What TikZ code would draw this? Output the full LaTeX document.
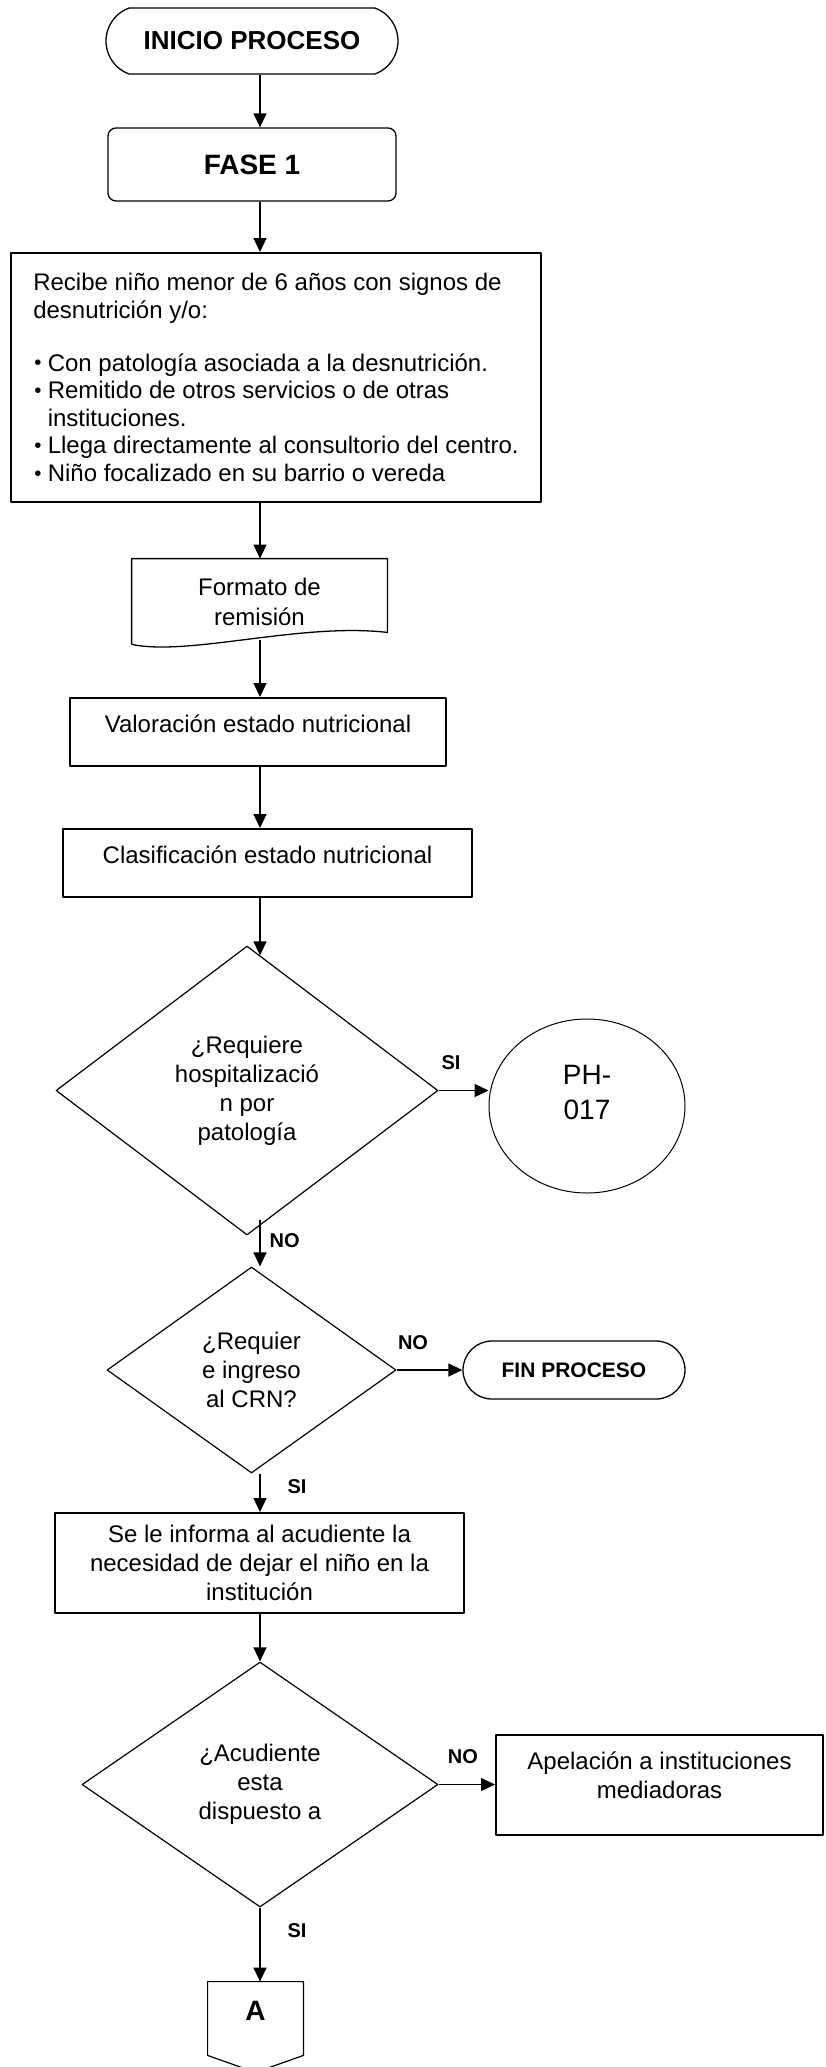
\documentclass[tikz,border=0pt]{standalone}
\usepackage{fontspec}
\setmainfont{Liberation Sans}
\usetikzlibrary{shapes.geometric,shapes.misc,arrows.meta,positioning}

\newcommand{\vineta}{\makebox[7.25pt][l]{\hspace{0.5pt}\raisebox{0.6pt}{\scalebox{0.85}{\textbullet}}}}

\begin{document}
\begin{tikzpicture}[
    x=0.5pt, y=-0.5pt,
    line join=round,
    flecha/.style={draw=black, line width=0.65pt, -{Triangle[length=7pt,width=6.5pt]}},
    terminal/.style={rounded rectangle, draw=black, line width=0.65pt, inner sep=0pt, font=\bfseries\fontsize{13}{15}\selectfont},
    fase/.style={rectangle, rounded corners=4pt, draw=black, line width=0.65pt, inner sep=0pt, font=\bfseries\fontsize{14}{16}\selectfont},
    caja/.style={rectangle, draw=black, line width=1pt, align=center, inner sep=0pt, font=\fontsize{12}{14.5}\selectfont},
    decision/.style={diamond, draw=black, line width=0.6pt, align=center, inner sep=0pt, font=\fontsize{12}{14.5}\selectfont},
    etiqueta/.style={inner sep=0pt, font=\bfseries\fontsize{10}{12}\selectfont}
]
\useasboundingbox (0,0) rectangle (825,2067);

% eje principal del flujo
\coordinate (eje) at (260,0);

\node[terminal, rounded rectangle arc length=140, minimum width=146pt, minimum height=33pt] (inicio) at (252,41) {INICIO PROCESO};
\node[fase, minimum width=144pt, minimum height=36.5pt] (fase1) at (252,164.5) {FASE 1};

\node[caja, align=left, minimum width=265pt, minimum height=124.5pt, font=\fontsize{12}{13.8}\selectfont] (recibe) at (276,377.5)
  {Recibe niño menor de 6 años con signos de\\
   desnutrición y/o:\\[12.7pt]
   \vineta Con patología asociada a la desnutrición.\\
   \vineta Remitido de otros servicios o de otras\\
   \hspace*{7.25pt}instituciones.\\
   \vineta Llega directamente al consultorio del centro.\\
   \vineta Niño focalizado en su barrio o vereda};

% documento
\node[align=center, inner sep=0pt, minimum width=127.5pt, minimum height=42.5pt, font=\fontsize{12}{15}\selectfont] (formato) at (259.5,601.5) {Formato de\\remisión};
\draw[line width=0.65pt] (formato.south west) -- (formato.north west) -- (formato.north east) -- ([yshift=6pt]formato.south east)
  .. controls ([xshift=-43.5pt,yshift=11pt]formato.south east) and ([xshift=29pt,yshift=-6pt]formato.south west) .. (formato.south west);

\node[caja, minimum width=188pt, minimum height=34pt, text height=9pt, text depth=9pt] (valoracion) at (258,732) {Valoración estado nutricional};
\node[caja, minimum width=204.5pt, minimum height=34pt, text height=9pt, text depth=9pt] (clasificacion) at (267.5,863) {Clasificación estado nutricional};

\node[decision, minimum width=191pt, minimum height=144.5pt] (hosp) at (247,1090.5) {¿Requiere\\hospitalizació\\n por\\patología};
\node[ellipse, draw=black, line width=0.5pt, align=center, inner sep=0pt, minimum width=98pt, minimum height=87pt, font=\fontsize{14}{17.5}\selectfont, text depth=14pt] (ph) at (587,1106) {PH-\\017};

\node[decision, minimum width=144.5pt, minimum height=103pt] (crn) at (251.5,1370) {¿Requier\\e ingreso\\al CRN?};
\node[terminal, minimum width=111pt, minimum height=29pt, font=\bfseries\fontsize{10.5}{12}\selectfont] (fin) at (574,1370) {FIN PROCESO};

\node[caja, minimum width=204.5pt, minimum height=50pt] (informa) at (259.5,1563) {Se le informa al acudiente la\\necesidad de dejar el niño en la\\institución};

\node[decision, minimum width=178pt, minimum height=122.5pt] (acudiente) at (260,1784.5) {¿Acudiente\\esta\\dispuesto a};
\node[caja, minimum width=163.5pt, minimum height=50pt, text depth=9.5pt] (apelacion) at (659.5,1785) {Apelación a instituciones\\mediadoras};

% conector fuera de pagina
\node[inner sep=0pt, minimum width=47.5pt, minimum height=36.5pt, text height=10pt, text depth=8pt, font=\bfseries\fontsize{14}{16}\selectfont] (conectorA) at (255.5,2018.5) {A};
\draw[line width=0.6pt] (conectorA.south west) -- (conectorA.north west) -- (conectorA.north east) -- (conectorA.south east) -- ([yshift=-8.5pt]conectorA.south) -- cycle;

% flechas
\draw[flecha] (inicio.south -| eje) -- (fase1.north -| eje);
\draw[flecha] (fase1.south -| eje) -- (recibe.north -| eje);
\draw[flecha] (recibe.south -| eje) -- (formato.north -| eje);
\draw[flecha, shorten <=-2pt] (formato.south -| eje) -- (valoracion.north -| eje);
\draw[flecha] (valoracion.south -| eje) -- (clasificacion.north -| eje);
\draw[flecha, shorten >=-5pt] (clasificacion.south -| eje) -- (hosp.north -| eje);
\draw[flecha] (hosp.east) -- (hosp.east -| ph.west) node[etiqueta, pos=0.25, above=10pt] {SI};
\draw[flecha, shorten <=-8pt] (hosp.south -| eje) -- (crn.north -| eje) node[etiqueta, pos=0.16, right=4.5pt] {NO};
\draw[flecha] (crn.east) -- (crn.east -| fin.west) node[etiqueta, pos=0.25, above=10pt] {NO};
\draw[flecha] (crn.south -| eje) -- (informa.north -| eje) node[etiqueta, pos=0.33, right=13.5pt] {SI};
\draw[flecha] (informa.south -| eje) -- (acudiente.north -| eje);
\draw[flecha] (acudiente.east) -- (acudiente.east -| apelacion.west) node[etiqueta, pos=0.43, above=10pt] {NO};
\draw[flecha] (acudiente.south -| eje) -- (conectorA.north -| eje) node[etiqueta, pos=0.31, right=13.5pt] {SI};
\end{tikzpicture}
\end{document}
